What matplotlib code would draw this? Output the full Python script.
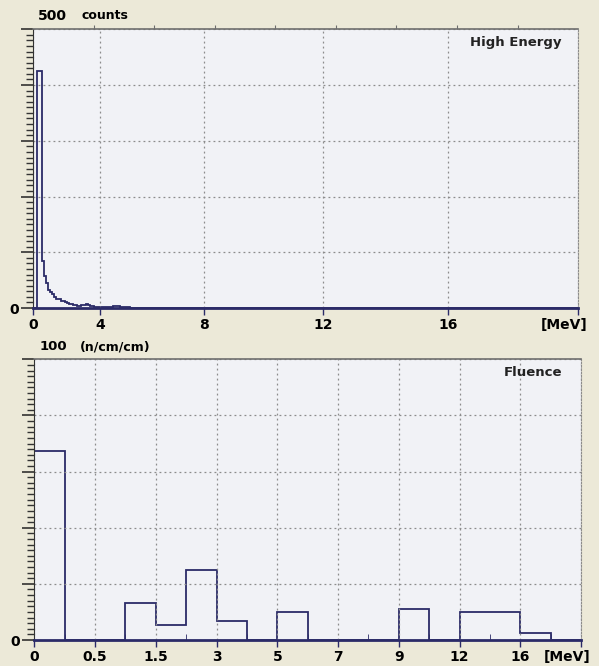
import numpy as np
import matplotlib
matplotlib.use('Agg')
import matplotlib.pyplot as plt
import matplotlib.transforms as mtransforms
from matplotlib.ticker import MultipleLocator, FixedLocator, NullFormatter, FuncFormatter

# high energy spectrum: counts per 0.125 MeV channel, starting at 0 MeV
he_width = 0.125
he_counts = [0, 0, 425, 425, 84, 58, 44, 32, 29, 25, 20, 17, 16, 13, 12, 10,
             9, 8, 7, 6, 5, 4, 4, 5, 6, 7, 6, 4, 3, 2, 1, 2, 2, 1, 1, 1,
             3, 3, 1, 2, 1]
he_knots_e = [0, 4, 8, 12, 16, 20]          # energy calibration of the display
he_knots_p = [0, 0.123, 0.314, 0.532, 0.761, 1.0]
he_ticks = [0, 4, 8, 12, 16]

# fluence per energy group
fl_edges = [0, 0.25, 0.5, 1, 1.5, 2.25, 3, 4, 5, 6, 7, 8, 9, 10.5, 12, 14, 16, 18, 20]
fl_values = [67.3, 0, 0, 13.1, 5.3, 24.8, 6.8, 0, 10.1, 0, 0, 0, 11.1, 0, 9.9, 9.9, 2.4, 0]
fl_ticks = [0, 0.5, 1.5, 3, 5, 7, 9, 12, 16]
fl_tick_labels = ['0', '0.5', '1.5', '3', '5', '7', '9', '12', '16']

bg = '#ECE9D8'
face = '#F1F2F6'
navy = '#2B2B68'
gridc = '#8C8C8C'

plt.rcParams['font.family'] = 'DejaVu Sans'
fig = plt.figure(figsize=(5.99, 6.66), dpi=100, facecolor=bg)

def style(ax, ymax, ystep):
    ax.set_facecolor(face)
    ax.set_ylim(0, ymax)
    ax.yaxis.set_major_locator(MultipleLocator(ystep))
    ax.yaxis.set_minor_locator(MultipleLocator(ystep / 10))
    ax.yaxis.set_major_formatter(FuncFormatter(lambda v, p: '0' if v == 0 else ''))
    ax.yaxis.set_minor_formatter(NullFormatter())
    ax.tick_params(axis='y', which='major', length=9, width=1.1, color='#222222', pad=1)
    ax.tick_params(axis='y', which='minor', left=True, length=5, width=1.0, color='#333333')
    ax.tick_params(axis='x', which='major', length=5, width=1, color=navy, pad=2)
    ax.grid(True, which='major', color=gridc, linestyle=(0, (1.5, 2.5)), linewidth=0.9)
    ax.spines['top'].set_color('#6E6E6E')
    ax.spines['top'].set_linewidth(1.2)
    ax.spines['right'].set_color('#8C8C8C')
    ax.spines['right'].set_linestyle((0, (1.5, 1.5)))
    ax.spines['left'].set_color('#333333')
    ax.spines['bottom'].set_color(navy)
    ax.spines['bottom'].set_linewidth(2)
    labs = ax.get_xticklabels()
    for lab in labs + ax.get_yticklabels():
        lab.set_fontweight('bold')
        lab.set_fontsize(10)
    # unit label sits at the right end, right aligned
    labs[-1].set_horizontalalignment('right')
    labs[-1].set_transform(labs[-1].get_transform() +
                           mtransforms.ScaledTranslation(9 / 100, 0, fig.dpi_scale_trans))

# ---- top panel: high energy counts
ax1 = fig.add_axes([0.0556, 0.5375, 0.9094, 0.4185])
f1 = lambda x: np.interp(x, he_knots_e, he_knots_p)
i1 = lambda p: np.interp(p, he_knots_p, he_knots_e)
ax1.set_xscale('function', functions=(f1, i1))
ax1.set_xlim(0, 20)
he_edges = np.arange(len(he_counts) + 1) * he_width
ax1.stairs(he_counts, he_edges, color=navy, linewidth=1.3)
ax1.plot([he_edges[-1], 20], [0, 0], color=navy, linewidth=2)
ax1.xaxis.set_major_locator(FixedLocator(he_ticks + [20]))
ax1.set_xticklabels([str(t) for t in he_ticks] + ['[MeV]'])
ax1.xaxis.set_minor_locator(FixedLocator([]))
style(ax1, 500, 100)
ax1.text(0.97, 0.975, 'High Energy', transform=ax1.transAxes, ha='right', va='top',
         fontsize=9.5, fontweight='bold', color='#222222')
fig.text(0.064, 0.976, '500', fontsize=10, fontweight='bold', va='center')
fig.text(0.136, 0.976, 'counts', fontsize=9, fontweight='bold', va='center')
# small marks along the top edge
ax1t = ax1.twiny()
ax1t.set_xlim(0, 9)
ax1t.set_xticks(range(1, 9))
ax1t.set_xticklabels([])
ax1t.tick_params(axis='x', length=3, color='#6E6E6E')
for s in ax1t.spines.values():
    s.set_visible(False)

# ---- bottom panel: fluence
ax2 = fig.add_axes([0.0573, 0.039, 0.9127, 0.4215])
pos = np.linspace(0, 1, len(fl_edges))
f2 = lambda x: np.interp(x, fl_edges, pos)
i2 = lambda p: np.interp(p, pos, fl_edges)
ax2.set_xscale('function', functions=(f2, i2))
ax2.set_xlim(0, 20)
ax2.stairs(fl_values, fl_edges, color=navy, linewidth=1.3)
ax2.xaxis.set_major_locator(FixedLocator(fl_ticks + [20]))
ax2.set_xticklabels(fl_tick_labels + ['[MeV]'])
ax2.xaxis.set_minor_locator(FixedLocator(fl_edges[1::2]))
ax2.xaxis.set_minor_formatter(NullFormatter())
ax2.tick_params(axis='x', which='minor', direction='in', length=4, color=navy)
style(ax2, 100, 20)
ax2.text(0.965, 0.975, 'Fluence', transform=ax2.transAxes, ha='right', va='top',
         fontsize=9.5, fontweight='bold', color='#222222')
fig.text(0.066, 0.479, '100', fontsize=9.5, fontweight='bold', va='center')
fig.text(0.133, 0.479, '(n/cm/cm)', fontsize=9, fontweight='bold', va='center')

fig.savefig('out.png', dpi=100, facecolor=bg)
